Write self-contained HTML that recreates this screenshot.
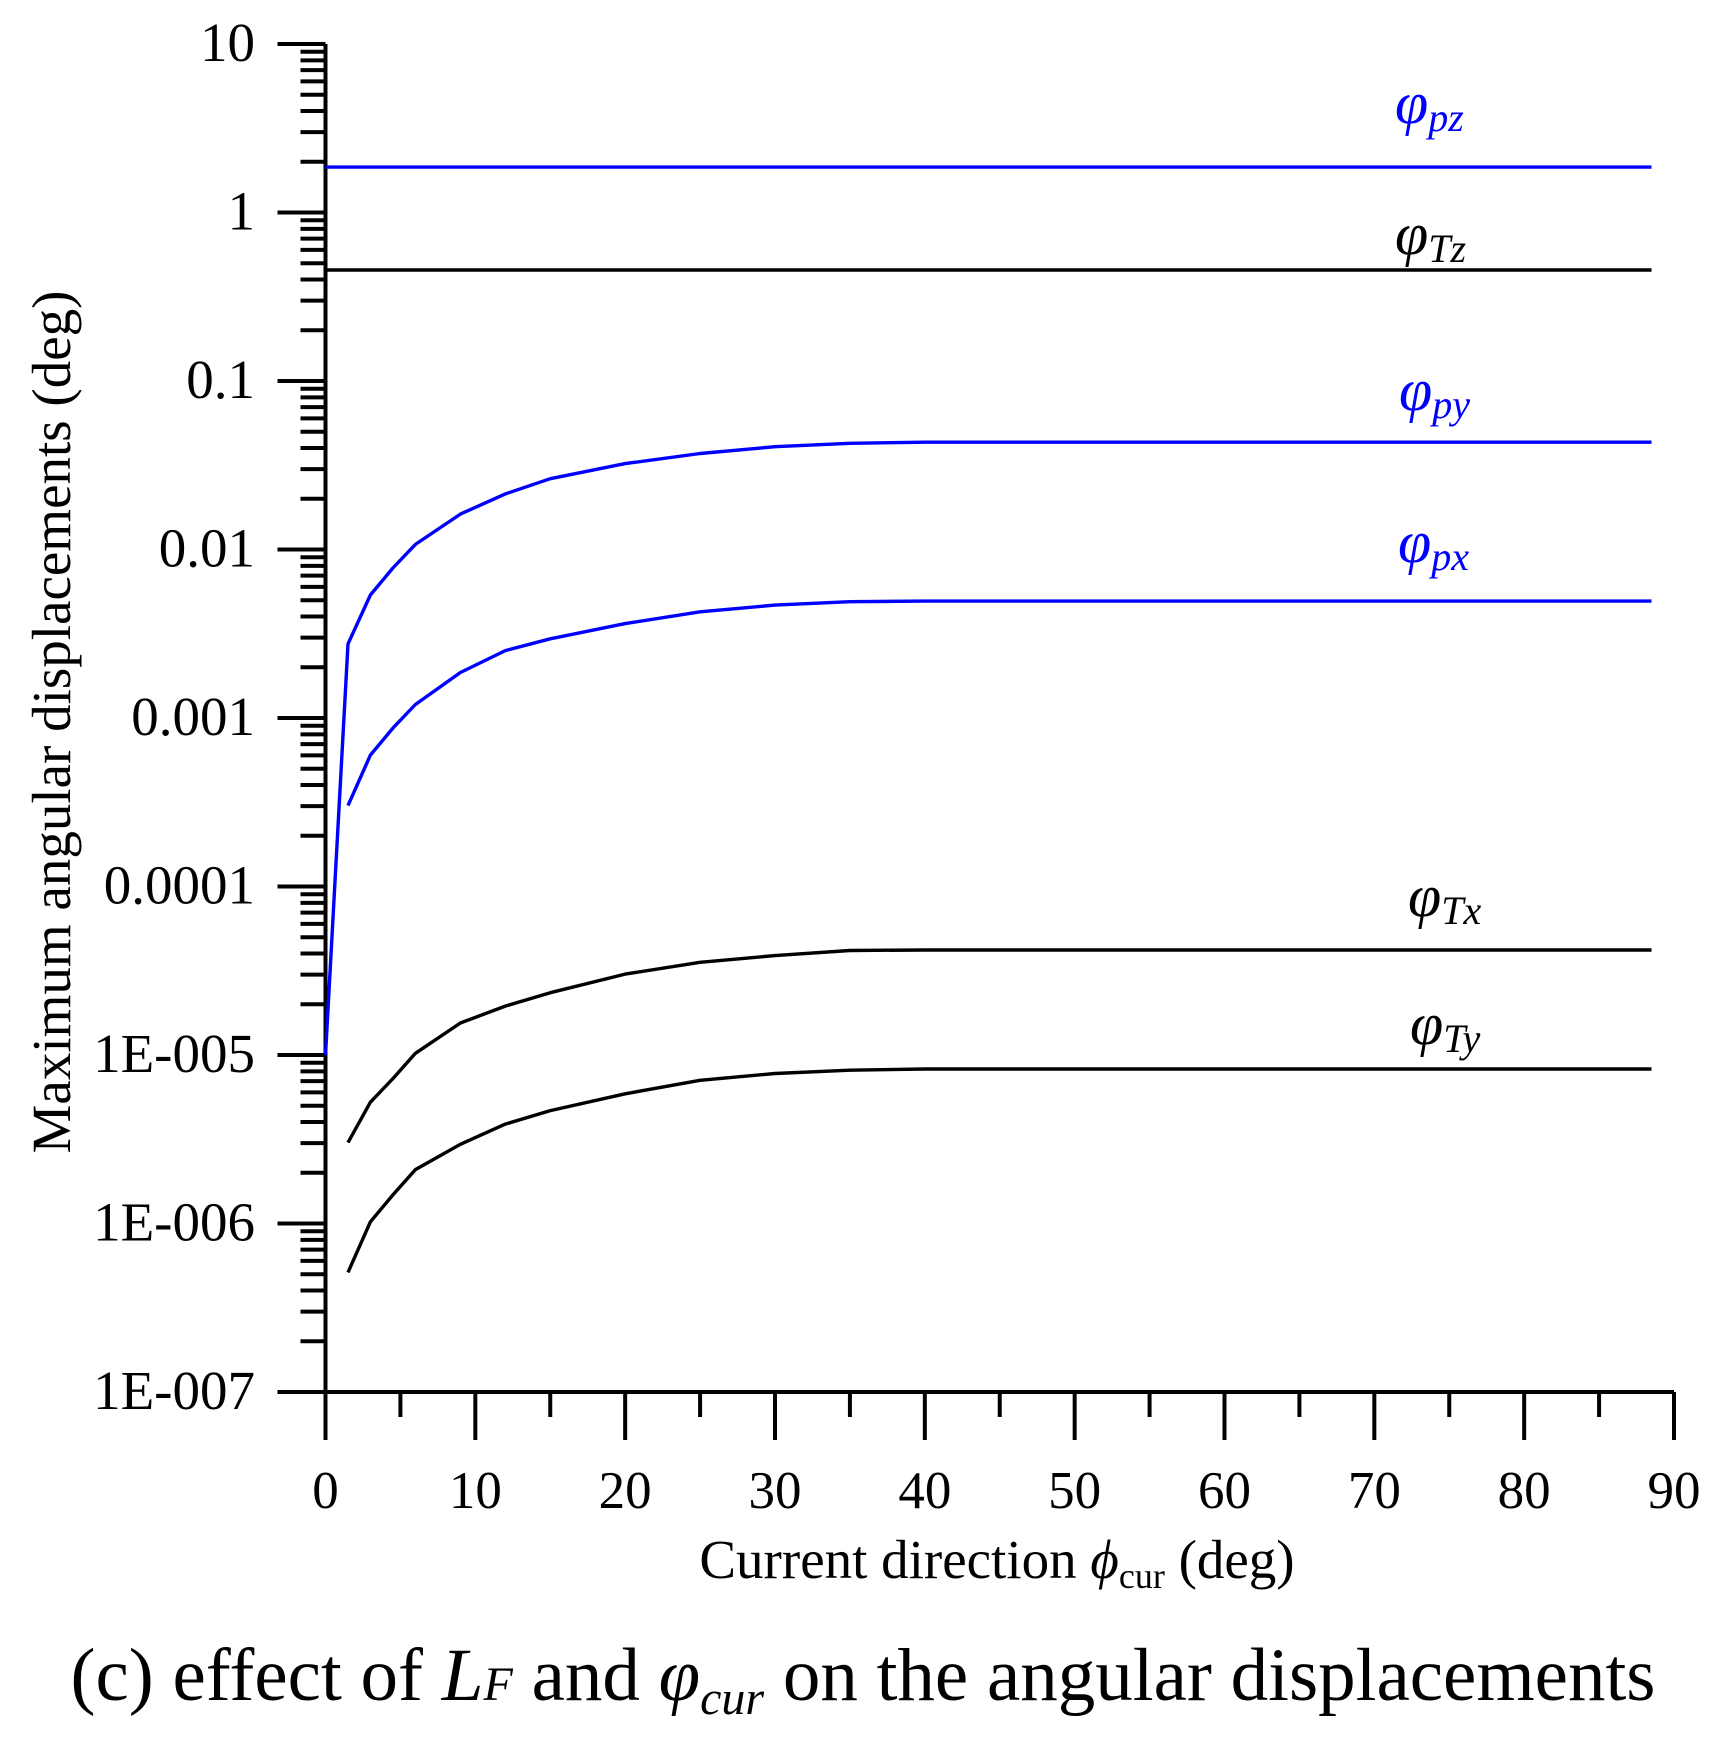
<!DOCTYPE html>
<html><head><meta charset="utf-8"><style>
html,body{margin:0;padding:0;background:#fff;}
svg{display:block;font-family:"Liberation Serif",serif;}
</style></head><body>
<svg id="chart" width="1721" height="1744" viewBox="0 0 1721 1744" xmlns="http://www.w3.org/2000/svg">
<g id="axes"></g>
<g id="series"></g>
<g id="labels">
<text x="1395" y="123" fill="#0000ff" font-style="italic" font-size="60">φ<tspan font-size="40" dy="8">pz</tspan></text>
<text x="1395" y="254" fill="#000" font-style="italic" font-size="60">φ<tspan font-size="40" dy="8">Tz</tspan></text>
<text x="1399" y="410" fill="#0000ff" font-style="italic" font-size="60">φ<tspan font-size="40" dy="8">py</tspan></text>
<text x="1398" y="562" fill="#0000ff" font-style="italic" font-size="60">φ<tspan font-size="40" dy="8">px</tspan></text>
<text x="1408" y="916" fill="#000" font-style="italic" font-size="60">φ<tspan font-size="40" dy="8">Tx</tspan></text>
<text x="1410" y="1044" fill="#000" font-style="italic" font-size="60">φ<tspan font-size="40" dy="8">Ty</tspan></text>
</g>
<text x="997" y="1578" text-anchor="middle" font-size="55">Current direction <tspan font-style="italic">ϕ</tspan><tspan font-size="36" dy="10">cur</tspan><tspan dy="-10"> (deg)</tspan></text>
<text transform="translate(70,722) rotate(-90)" text-anchor="middle" font-size="55">Maximum angular displacements (deg)</text>
<text x="863" y="1700" text-anchor="middle" font-size="75">(c) effect of <tspan font-style="italic">L</tspan><tspan font-style="italic" font-size="48">F</tspan> and <tspan font-style="italic">φ</tspan><tspan font-style="italic" font-size="48" dy="14">cur</tspan><tspan dy="-14"> on the angular displacements</tspan></text>
</svg>
<script>
const xTicks=[0,10,20,30,40,50,60,70,80,90];
const yTickExps=[1,0,-1,-2,-3,-4,-5,-6,-7];
const yTickLabels=["10","1","0.1","0.01","0.001","0.0001","1E-005","1E-006","1E-007"];
const xs=[1.5,3,4.5,6,9,12,15,20,25,30,35,40,88.5];
const pzX=[0,88.5], pzV=[1.86,1.86];
const tzX=[0,88.5], tzV=[0.456,0.456];
const pyX=[0].concat(xs);
const pyLog=[-5,-2.56,-2.27,-2.11,-1.97,-1.79,-1.67,-1.58,-1.49,-1.43,-1.39,-1.37,-1.363,-1.363];
const pxLog=[-3.52,-3.22,-3.06,-2.92,-2.73,-2.60,-2.53,-2.44,-2.37,-2.33,-2.31,-2.306,-2.306];
const txLog=[-5.52,-5.28,-5.14,-4.99,-4.81,-4.71,-4.63,-4.52,-4.45,-4.41,-4.38,-4.377,-4.377];
const tyLog=[-6.29,-5.99,-5.83,-5.68,-5.53,-5.41,-5.33,-5.23,-5.15,-5.11,-5.09,-5.083,-5.083];

const X0=325.5,X1=1674,Y0=44,DEC=168.5;
const sx=v=>X0+(X1-X0)*v/90;
const syLog=l=>Y0+(1-l)*DEC;
const sy=v=>syLog(Math.log10(v));
const NS="http://www.w3.org/2000/svg";
function mk(t,a,p){const e=document.createElementNS(NS,t);for(const k in a)e.setAttribute(k,a[k]);p.appendChild(e);return e;}
const axes=document.getElementById('axes'), ser=document.getElementById('series');
let l=mk('line',{x1:X0,y1:Y0,x2:X0,y2:syLog(-7),stroke:'#000','stroke-width':4},axes);


l=mk('line',{x1:X0-48,y1:syLog(-7),x2:X1,y2:syLog(-7),stroke:'#000','stroke-width':4},axes);


yTickExps.forEach((e,i)=>{
  const y=syLog(e);
  let t=mk('line',{x1:X0-48,y1:y,x2:X0,y2:y,stroke:'#000','stroke-width':4},axes);
  
  
  const tx=mk('text',{x:255,y:y+17,'text-anchor':'end','font-size':55},axes);
  tx.textContent=yTickLabels[i];
  
  
  if(e>-7){for(let m=2;m<=9;m++){const ym=syLog(e-1+Math.log10(m));
    t=mk('line',{x1:X0-25,y1:ym,x2:X0,y2:ym,stroke:'#000','stroke-width':4},axes);
    
    }}
});
const yb=syLog(-7);
xTicks.forEach(v=>{
  const x=sx(v);
  let t=mk('line',{x1:x,y1:yb,x2:x,y2:yb+48,stroke:'#000','stroke-width':4},axes);
  
  
  const tx=mk('text',{x:x,y:1508,'text-anchor':'middle','font-size':53},axes);
  tx.textContent=v;
  
  
  if(v<90){const xm=sx(v+5);
    t=mk('line',{x1:xm,y1:yb,x2:xm,y2:yb+25,stroke:'#000','stroke-width':4},axes);
    
    }
});
function line(xv,yp,color,name){
  const d=xv.map((x,i)=>(i?'L':'M')+sx(x).toFixed(1)+','+yp[i].toFixed(1)).join('');
  const p=mk('path',{d:d,fill:'none',stroke:color,'stroke-width':3.4,'stroke-linejoin':'round'},ser);
  
  
}
line(pzX,pzV.map(sy),'#0000ff','series-phi-pz');
line(tzX,tzV.map(sy),'#000','series-phi-tz');
line(pyX,pyLog.map(syLog),'#0000ff','series-phi-py');
line(xs,pxLog.map(syLog),'#0000ff','series-phi-px');
line(xs,txLog.map(syLog),'#000','series-phi-tx');
line(xs,tyLog.map(syLog),'#000','series-phi-ty');
</script>
</body></html>
